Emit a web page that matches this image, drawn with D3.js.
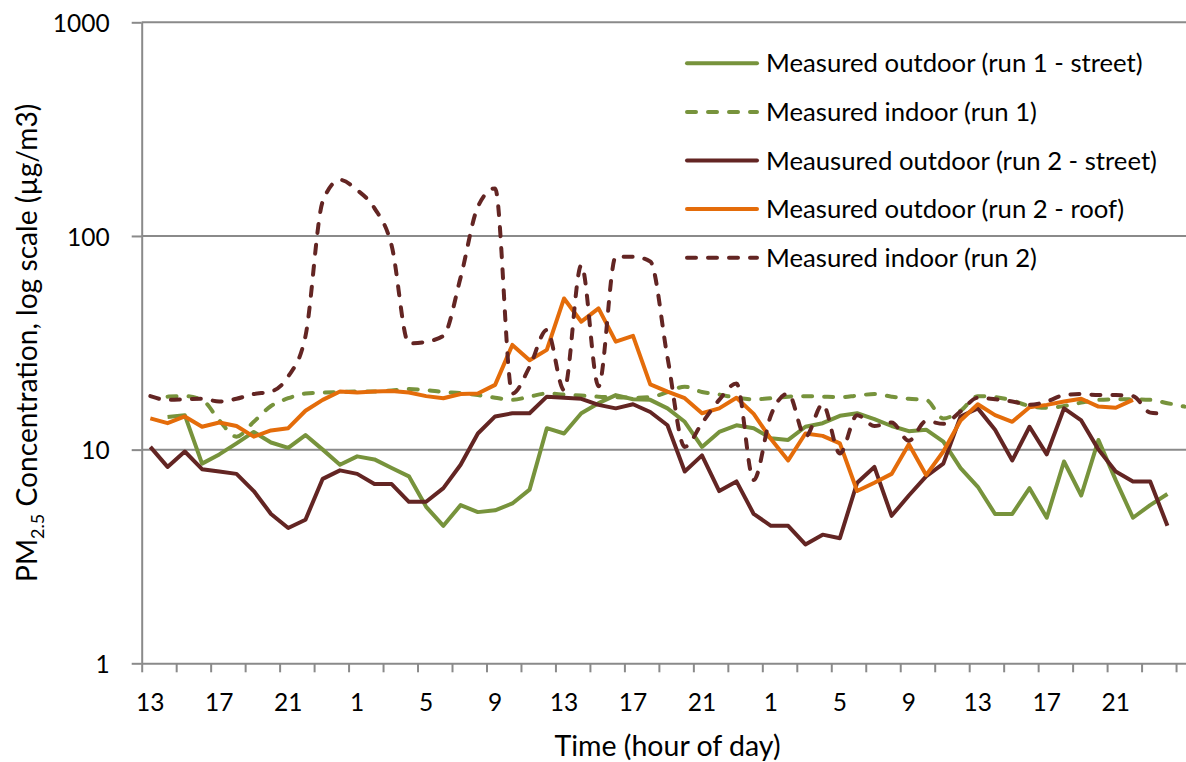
<!DOCTYPE html>
<html>
<head>
<meta charset="utf-8">
<script src="https://cdn.jsdelivr.net/npm/d3@7"></script>
<style>
  body { margin: 0; background: #fff; }
  text { font-family: Lato, "Open Sans", sans-serif; fill: #000; }
</style>
</head>
<body>
<div id="chart"></div>
<script>
// hour of day for every category on the x axis (one per hour, starting at 13h)
hours = [13, 14, 15, 16, 17, 18, 19, 20, 21, 22, 23,
    0, 1, 2, 3, 4, 5, 6, 7, 8, 9, 10, 11, 12, 13, 14, 15, 16, 17, 18, 19, 20, 21, 22, 23,
    0, 1, 2, 3, 4, 5, 6, 7, 8, 9, 10, 11, 12, 13, 14, 15, 16, 17, 18, 19, 20, 21, 22, 23,
    0, 1]
labelledHours = [0, 4, 8, 12, 16, 20, 24, 28, 32, 36, 40, 44, 48, 52, 56] // category index of each tick label
yTicks = [1, 10, 100, 1000]

outdoorRun1 = [null, 14.2, 14.5, 8.6, 9.5, 10.7, 12.1, 10.8, 10.2, 11.7, 10.0, 8.5, 9.3, 9.0, 8.2, 7.5, 5.4, 4.4, 5.5, 5.1,
    5.2, 5.6, 6.5, 12.6, 11.9, 14.8, 16.5, 18.0, 17.2, 17.1, 15.6, 13.5, 10.3, 12.1, 13.0, 12.6, 11.3, 11.1, 12.8, 13.3,
    14.4, 14.8, 13.9, 12.9, 12.2, 12.4, 10.9, 8.2, 6.7, 5.0, 5.0, 6.6, 4.8, 8.8, 6.1, 11.1, 7.2, 4.8, 5.5, 6.2, null]
indoorRun1 = [null, 17.7, 17.8, 17.1, 13.7, 11.5, 13.5, 16.0, 17.4, 18.3, 18.5, 18.6, 18.7, 18.7, 18.9, 19.2, 19.0, 18.6, 18.4, 18.0,
    17.5, 17.1, 17.7, 18.3, 18.1, 17.9, 17.7, 17.6, 17.5, 17.6, 18.6, 19.7, 18.6, 18.1, 17.5, 17.2, 17.4, 17.7, 17.8, 17.7,
    17.6, 17.9, 18.2, 17.7, 17.3, 17.1, 14.0, 15.2, 17.8, 17.6, 17.0, 16.0, 15.7, 16.0, 16.6, 17.1, 17.2, 17.2, 17.1, 16.5, 15.9]
outdoorRun2Street = [10.3, 8.3, 9.8, 8.1, 7.9, 7.7, 6.4, 5.0, 4.3, 4.7, 7.3, 8.0, 7.7, 6.9, 6.9, 5.7, 5.7, 6.6, 8.5, 11.9,
    14.3, 14.8, 14.8, 17.7, 17.5, 17.3, 16.2, 15.6, 16.3, 15.0, 13.0, 7.9, 9.4, 6.4, 7.1, 5.0, 4.4, 4.4, 3.6, 4.0,
    3.85, 7.0, 8.3, 4.9, 6.1, 7.5, 8.6, 14.3, 15.6, 12.4, 8.9, 12.8, 9.5, 15.6, 13.7, 10.0, 7.9, 7.1, 7.1, 4.4, null]
outdoorRun2Roof = [14.0, 13.3, 14.3, 12.8, 13.4, 12.9, 11.5, 12.3, 12.6, 15.2, 17.1, 18.7, 18.5, 18.7, 18.8, 18.5, 17.8, 17.4, 18.2, 18.3,
    20.1, 30.9, 26.2, 29.3, 51, 39.7, 45.8, 32.0, 34.1, 20.2, 18.7, 17.4, 14.8, 15.6, 17.5, 14.7, 11.2, 8.9, 11.9, 11.6,
    10.7, 6.4, 7.0, 7.7, 10.6, 7.6, 9.8, 13.7, 16.3, 14.5, 13.5, 15.8, 16.2, 16.8, 17.3, 15.9, 15.7, 17.1, null, null, null]
indoorRun2 = [17.8, 17.1, 17.2, 17.3, 16.8, 17.3, 18.2, 18.7, 22, 34, 145, 183, 164, 135, 90, 31.4, 32, 34.1, 64, 137,
    167, 18.3, 24.4, 36.3, 19.0, 73, 19.8, 80, 80, 76, 27, 10.3, 13.3, 17.1, 20.4, 7.2, 14.5, 18.3, 11.5, 16.3,
    9.6, 14.5, 12.9, 13.4, 11.0, 13.6, 13.2, 15.1, 17.5, 17.2, 16.8, 16.2, 16.8, 18.0, 18.2, 18.0, 18.0, 17.8, 14.9, 14.7, null]

seriesNames = ["Measured outdoor (run 1 - street)", "Measured indoor (run 1)", "Meausured outdoor (run 2 - street)",
    "Measured outdoor (run 2 - roof)", "Measured indoor (run 2)"]
seriesColors = ["#77933C", "#77933C", "#632523", "#E46C0A", "#632523"]
seriesDashed = [false, true, false, false, true]

let svg, xScale, xEdge, yScale;

document.addEventListener('DOMContentLoaded', function () {
    createLineChart();
});

function createLineChart() {
    width = 1186;
    height = 762;
    plot = { left: 141.7, right: 1193.3, top: 22.3, bottom: 663.3 };

    svg = d3.select("#chart")
        .append("svg")
        .attr("width", width)
        .attr("height", height);

    xScale = d3.scaleBand()
        .domain(d3.range(hours.length))
        .range([plot.left, plot.right])
        .padding(0);

    // same axis but continuous, for the tick marks between categories
    xEdge = d3.scaleLinear()
        .domain([0, hours.length])
        .range([plot.left, plot.right]);

    yScale = d3.scaleLog()
        .domain([1, 1000])
        .range([plot.bottom, plot.top]);

    // horizontal gridlines
    svg.append("g")
        .selectAll("line")
        .data(yTicks.slice(1))
        .join("line")
        .attr("x1", plot.left)
        .attr("x2", plot.right)
        .attr("y1", d => yScale(d))
        .attr("y2", d => yScale(d))
        .attr("stroke", "#8a8a8a")
        .attr("stroke-width", 2);

    yAxis = svg.append("g")
        .attr("transform", "translate(" + plot.left + ",0)")
        .call(d3.axisLeft(yScale).tickValues(yTicks).tickFormat(d3.format("d")).tickSize(10).tickSizeOuter(0).tickPadding(22));

    xTicks = svg.append("g")
        .attr("transform", "translate(0," + plot.bottom + ")")
        .call(d3.axisBottom(xEdge).tickValues(d3.range(0, hours.length, 2)).tickFormat("").tickSize(9).tickSizeOuter(0));

    xAxis = svg.append("g")
        .attr("transform", "translate(0," + plot.bottom + ")")
        .call(d3.axisBottom(xScale).tickValues(labelledHours).tickFormat(i => hours[i]).tickSize(0).tickPadding(30));
    xAxis.select(".domain").remove();

    svg.selectAll(".domain, .tick line")
        .attr("stroke", "#8a8a8a")
        .attr("stroke-width", 2);
    svg.selectAll(".tick text")
        .attr("fill", "#000")
        .style("font-size", "24.5px")
        .style("font-family", "Lato, 'Open Sans', sans-serif");
    yAxis.selectAll(".tick text").attr("dy", "0.37em");
    xAxis.selectAll(".tick text").attr("dy", "0.71em");

    svg.append("text")
        .attr("x", (plot.left + plot.right) / 2)
        .attr("y", 756)
        .style("text-anchor", "middle")
        .style("font-size", "28.5px")
        .text("Time (hour of day)");

    yTitle = svg.append("text")
        .attr("transform", "translate(37," + (plot.top + plot.bottom) / 2 + ") rotate(-90)")
        .style("text-anchor", "middle")
        .style("font-size", "28.2px");
    yTitle.append("tspan").text("PM");
    yTitle.append("tspan").attr("dy", 7).style("font-size", "18px").text("2.5");
    yTitle.append("tspan").attr("dy", -7).text(" Concentration, log scale (µg/m3)");

    allSeries = [outdoorRun1, indoorRun1, outdoorRun2Street, outdoorRun2Roof, indoorRun2];

    const lineStraight = d3.line()
        .defined(d => d != null)
        .x((d, i) => xScale(i) + xScale.bandwidth() / 2)
        .y(d => yScale(d));
    const lineSmooth = d3.line()
        .defined(d => d != null)
        .x((d, i) => xScale(i) + xScale.bandwidth() / 2)
        .y(d => yScale(d))
        .curve(d3.curveMonotoneX);

    svg.append("g")
        .selectAll("path")
        .data(allSeries)
        .join("path")
        .attr("fill", "none")
        .attr("stroke", (d, i) => seriesColors[i])
        .attr("stroke-width", 4)
        .attr("stroke-linejoin", "round")
        .attr("stroke-linecap", (d, i) => seriesDashed[i] ? "round" : "butt")
        .attr("stroke-dasharray", (d, i) => seriesDashed[i] ? "9,12" : null)
        .attr("d", (d, i) => seriesDashed[i] ? lineSmooth(d) : lineStraight(d));

    createLegend();
}

function createLegend() {
    const legend = svg.append("g")
        .attr("transform", "translate(687,63.3)");

    const rows = legend.selectAll(".legend-row")
        .data(seriesNames)
        .join("g")
        .attr("class", "legend-row")
        .attr("transform", (d, i) => "translate(0," + i * 48.6 + ")");

    rows.append("line")
        .attr("x1", 0)
        .attr("x2", 70)
        .attr("stroke", (d, i) => seriesColors[i])
        .attr("stroke-width", 4)
        .attr("stroke-linecap", "round")
        .attr("stroke-dasharray", (d, i) => seriesDashed[i] ? "9,12" : null);

    rows.append("text")
        .attr("x", 79)
        .attr("y", 9)
        .style("font-size", "25.7px")
        .text(d => d);
}
</script>
</body>
</html>
